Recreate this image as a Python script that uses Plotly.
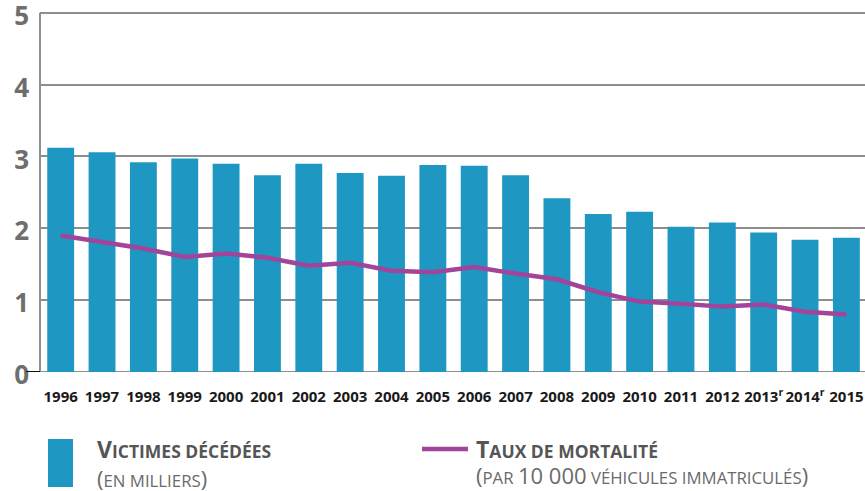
import plotly.graph_objects as go

years = ["1996", "1997", "1998", "1999", "2000", "2001", "2002", "2003", "2004", "2005",
         "2006", "2007", "2008", "2009", "2010", "2011", "2012", "2013", "2014", "2015"]
tick_labels = ["1996", "1997", "1998", "1999", "2000", "2001", "2002", "2003", "2004", "2005",
               "2006", "2007", "2008", "2009", "2010", "2011", "2012", "2013<sup>r</sup>",
               "2014<sup>r</sup>", "2015"]
victimes = [3.12, 3.06, 2.92, 2.97, 2.90, 2.74, 2.90, 2.77, 2.73, 2.88,
            2.87, 2.74, 2.42, 2.20, 2.23, 2.02, 2.08, 1.94, 1.84, 1.87]
taux = [1.90, 1.81, 1.72, 1.60, 1.65, 1.59, 1.48, 1.52, 1.41, 1.39,
        1.46, 1.37, 1.29, 1.11, 0.98, 0.95, 0.91, 0.94, 0.84, 0.80]
y_ticks = [0, 1, 2, 3, 4, 5]
Y_MAX = 5.15

BAR = "#1e97c3"
LINE = "#a3449b"
GRID = "#8e8e8e"

fig = go.Figure()
fig.add_trace(go.Bar(x=years, y=victimes, marker=dict(color=BAR, line=dict(width=0)),
                     name="Victimes décédées"))
fig.add_trace(go.Scatter(x=years, y=taux, mode="lines", line=dict(color=LINE, width=4.5),
                         name="Taux de mortalité"))

W, H = 865, 491
L, R, B = 40, 0, 119
unit = 71.8
T = round(H - B - Y_MAX * unit)
pw, ph = W - L - R, H - T - B


def px(x):
    return (x - L) / pw


def py(y):
    return (H - B - y) / ph


fig.update_layout(
    width=W, height=H,
    margin=dict(l=L, r=R, t=T, b=B, autoexpand=False),
    paper_bgcolor="white", plot_bgcolor="white",
    showlegend=False,
    bargap=0.35,
    font=dict(family="Open Sans", color="#222"),
    xaxis=dict(
        tickvals=years, ticktext=tick_labels,
        range=[-0.5, 19.45], automargin=False,
        showgrid=False, zeroline=False, showline=False,
        ticks="", ticklabelstandoff=14,
        tickfont=dict(size=15, family="Open Sans", color="#1a1a1a", weight="bold"),
        tickangle=0,
    ),
    yaxis=dict(
        range=[0, Y_MAX], tickvals=y_ticks, automargin=False,
        showgrid=True, gridcolor=GRID, gridwidth=2,
        zeroline=False, showline=False,
        ticks="", ticklabelstandoff=10, ticklabelshift=3, ticklabeloverflow="allow",
        tickfont=dict(size=26, family="Open Sans", color="#6e6e6e", weight="bold"),
    ),
    shapes=[
        dict(type="line", xref="paper", yref="y", x0=0, x1=1, y0=0, y1=0, layer="below",
             line=dict(color=GRID, width=2)),
        dict(type="line", xref="paper", yref="y", x0=0, x1=0, y0=0, y1=5,
             line=dict(color=GRID, width=2)),
        dict(type="line", xref="paper", yref="y", x0=px(26), x1=0, y0=0, y1=0,
             line=dict(color="#111", width=2)),
        dict(type="rect", xref="paper", yref="paper", x0=px(48), x1=px(73), y0=py(439), y1=py(487),
             fillcolor=BAR, line=dict(width=0)),
        dict(type="line", xref="paper", yref="paper", x0=px(422), x1=px(468), y0=py(449), y1=py(449),
             line=dict(color=LINE, width=4.5)),
    ],
)

bigb = "font-size:23px"
big = "font-size:22px"
annos = [
    (95, 449, f"<b><span style='{bigb}'>V</span>ICTIMES DÉCÉDÉES</b>", "#555555", 17.5),
    (95, 478, f"<span style='{big}'>(</span>EN MILLIERS<span style='{big}'>)</span>", "#6a6a6a", 16.8),
    (474, 449, f"<b><span style='{bigb}'>T</span>AUX DE MORTALITÉ</b>", "#555555", 17.5),
    (474, 475, f"<span style='{big}'>(</span>PAR <span style='{big}'>10 000</span> VÉHICULES IMMATRICULÉS<span style='{big}'>)</span>", "#6a6a6a", 16.8),
]
for x, y, t, c, s in annos:
    fig.add_annotation(xref="paper", yref="paper", x=px(x), y=py(y), text=t, showarrow=False,
                       xanchor="left", yanchor="middle",
                       font=dict(family="Open Sans", size=s, color=c))

fig.write_html("out.html", config={"displayModeBar": False},
               post_script="document.body.style.margin='0';document.body.style.overflow='hidden';")
